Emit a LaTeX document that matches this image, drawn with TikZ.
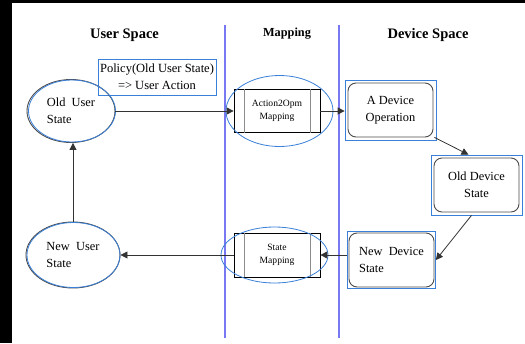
\documentclass[tikz,border=0pt]{standalone}
\usepackage{fontspec}
\setmainfont{Liberation Serif}
\usepackage{tikz}
\usetikzlibrary{arrows.meta,shapes.geometric,fit,calc}
\definecolor{LaneBlue}{HTML}{7878F2}
\definecolor{FrameBlue}{HTML}{3A80D8}
\definecolor{EdgeGray}{HTML}{4A4A4A}
\definecolor{SplitGray}{HTML}{8C8C8C}

\begin{document}
\begin{tikzpicture}[x=1pt,y=-1pt,
  title/.style={font=\bfseries\fontsize{14.5}{16}\selectfont},
  body/.style={font=\fontsize{12.4}{17}\selectfont},
  userstate/.style={ellipse,draw=EdgeGray,line width=0.9pt,body,align=left,inner sep=0pt},
  mapbox/.style={draw=black,line width=0.7pt,minimum width=86pt,align=center,font=\fontsize{9.6}{13}\selectfont},
  devstate/.style={draw=EdgeGray,line width=0.9pt,rounded corners=8pt,minimum width=85pt,minimum height=54pt,body,align=center},
  frame/.style={draw=FrameBlue,line width=0.8pt,inner sep=2.5pt},
  halo/.style={draw=FrameBlue,line width=0.8pt},
  split/.style={draw=SplitGray,line width=0.9pt},
  flow/.style={draw=black!80,line width=0.8pt,-{Triangle[length=7pt,width=7pt]}},
  lane/.style={draw=LaneBlue,line width=1.2pt}]
  \fill[black] (0,0) rectangle (525,343);
  \fill[white] (12,3) rectangle (525,343);
  \draw[lane] (225,25) -- (225,338);
  \draw[lane] (339,25) -- (339,338);
  \node[title] (userTitle) at (124.5,35) {User Space};
  \node[font=\bfseries\fontsize{12.3}{14}\selectfont] (mapTitle) at (287,34) {Mapping};
  \node[title] (devTitle) at (428,35) {Device Space};

  \node[draw=FrameBlue,line width=0.8pt,minimum width=118pt,minimum height=36pt,inner sep=1pt,align=center,font=\fontsize{12.5}{17}\selectfont] (policy) at (157,77) {Policy(Old User State)\\=> User Action};

  \node[userstate,minimum width=88pt,minimum height=63pt] (oldUser) at (71,111) {Old\ \ User\\State};
  \draw[halo] ([xshift=1pt]oldUser.center) ellipse [x radius=43.5pt,y radius=31pt];
  \node[userstate,minimum width=94pt,minimum height=66pt] (newUser) at (73,255) {New\ \ User\\State};
  \draw[halo] ([xshift=0.5pt]newUser.center) ellipse [x radius=46.5pt,y radius=32.5pt];

  \node[mapbox,minimum height=43pt] (act) at (277,111) {Action2Opm\\Mapping};
  \node[mapbox,minimum height=44pt] (stMap) at (277,255) {State\\Mapping};
  \foreach \m in {act,stMap} {
    \draw[split] ([xshift=11pt]\m.north west) -- ([xshift=11pt]\m.south west);
    \draw[split] ([xshift=-10pt]\m.north east) -- ([xshift=-10pt]\m.south east);
  }
  \draw[halo] ([xshift=2.5pt]act.center) ellipse [x radius=53.5pt,y radius=35.5pt];
  \draw[halo] ([xshift=-2.5pt]stMap.center) ellipse [x radius=53.5pt,y radius=28pt];

  \node[devstate] (devOp) at (390.5,110) {A Device\\Operation};
  \node[devstate] (oldDev) at (476.5,185) {Old Device\\State};
  \node[devstate,align=left] (newDev) at (391.5,260) {New\ \ Device\\State};
  \node[frame,fit=(devOp)] (devOpF) {};
  \node[frame,fit=(oldDev)] (oldDevF) {};
  \node[frame,inner sep=1pt,fit=(newDev)] (newDevF) {};

  \draw[flow] (oldUser) -- (act);
  \draw[flow] (act) -- (act -| devOpF.west);
  \draw[flow] ([xshift=-2pt,yshift=3pt]devOpF.south east) -- ([xshift=-8pt]oldDevF.north);
  \draw[flow] ([xshift=-5pt]oldDevF.south) -- (newDevF.east);
  \draw[flow] (newDevF.west |- stMap) -- (stMap);
  \draw[flow] (stMap) -- (newUser);
  \draw[flow] (newUser) -- (newUser |- oldUser.south);
\end{tikzpicture}
\end{document}
